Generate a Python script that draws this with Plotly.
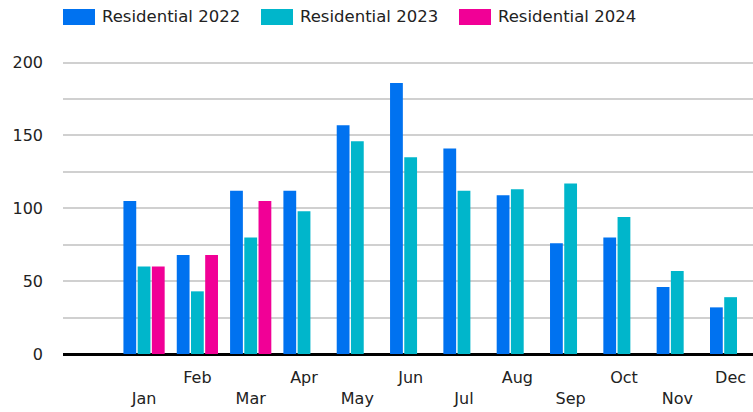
import plotly.graph_objects as go

months = ["Jan", "Feb", "Mar", "Apr", "May", "Jun", "Jul", "Aug", "Sep", "Oct", "Nov", "Dec"]
res2022 = [105, 68, 112, 112, 157, 186, 141, 109, 76, 80, 46, 32]
res2023 = [60, 43, 80, 98, 146, 135, 112, 113, 117, 94, 57, 39]
res2024 = [60, 68, 105, None, None, None, None, None, None, None, None, None]

series_names = ["Residential 2022", "Residential 2023", "Residential 2024"]
series_colors = ["#0072F0", "#00B6CB", "#F10096"]
series_values = [res2022, res2023, res2024]

tick_text = [("<br>" + m) if i % 2 == 0 else m for i, m in enumerate(months)]

FONT = "Verdana, DejaVu Sans, sans-serif"

fig = go.Figure()
for name, color, vals in zip(series_names, series_colors, series_values):
    fig.add_trace(go.Bar(x=months, y=vals, name=name, marker_color=color,
                         marker_line_width=0, showlegend=False))

# custom legend (large swatches)
W, H = 753, 412
ml, mr, mt, mb = 63, 0, 48, 58
pw, ph = W - ml - mr, H - mt - mb
def px_x(x):
    return (x - ml) / pw
def px_y(y):
    return (H - mb - y) / ph

for i, (name, color) in enumerate(zip(series_names, series_colors)):
    x0 = 63 + 198 * i
    fig.add_shape(type="rect", xref="paper", yref="paper",
                  x0=px_x(x0), x1=px_x(x0 + 32), y0=px_y(25), y1=px_y(9),
                  fillcolor=color, line_width=0)
    fig.add_annotation(xref="paper", yref="paper", x=px_x(x0 + 37), y=px_y(17),
                       text=name, showarrow=False, xanchor="left", yanchor="middle",
                       font=dict(family=FONT, size=16.5, color="#222222"))

fig.update_layout(
    width=W, height=H,
    margin=dict(l=ml, r=mr, t=mt, b=mb),
    barmode="group", bargap=0.2, bargroupgap=0.1,
    plot_bgcolor="white", paper_bgcolor="white",
    font=dict(family=FONT, size=16, color="#222222"),
)
fig.update_xaxes(type="category", range=[-1.52, 11.42],
                 tickmode="array", tickvals=months, ticktext=tick_text,
                 showgrid=False, showline=False, ticks="",
                 ticklabelstandoff=12,
                 tickfont=dict(family=FONT, size=16, color="#222222"))
fig.update_yaxes(range=[0, 210], tickmode="linear", tick0=0, dtick=50,
                 showgrid=True, gridcolor="#D0D0D0", gridwidth=2,
                 minor=dict(tickmode="linear", tick0=0, dtick=25, showgrid=True,
                            gridcolor="#D0D0D0", gridwidth=2),
                 zeroline=True, zerolinecolor="#000000", zerolinewidth=3,
                 showline=False, ticks="", ticklabelstandoff=19,
                 tickfont=dict(family=FONT, size=16, color="#222222"))

fig.write_html("out.html",
               config={"displayModeBar": False},
               post_script="document.body.style.margin='0';document.body.style.overflow='hidden';")
